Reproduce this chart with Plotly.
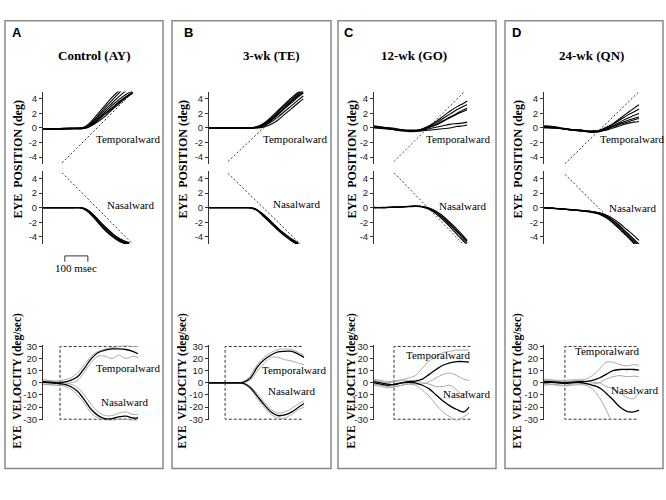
import plotly.graph_objects as go

W, H = 666, 500


def px(x):
    return x / W


def py(y):
    return 1 - y / H


# ---------------- data (time in msec, position in deg, velocity in deg/sec) ----------------
panel_letters = ["A", "B", "C", "D"]
panel_titles = ["Control (AY)", "3-wk (TE)", "12-wk (GO)", "24-wk (QN)"]
pos_ticks = [4, 2, 0, -2, -4]
pos_tick_labels = ["4", "2", "0", "-2", "-4"]
vel_ticks = [30, 20, 10, 0, -10, -20, -30]
vel_tick_labels = ["30", "20", "10", "0", "-10", "-20", "-30"]

t_vel = [0, 30, 60, 90, 120, 150, 180, 210, 240, 270, 300, 330, 360, 390, 413]

# ---- Panel A : Control (AY)
tA_temp = [0, 60, 120, 170, 190, 210, 240, 270, 300, 330, 360, 390]
A_temp = [
    [-0.2, -0.1, -0.1, 0.0, 0.3, 0.9, 2.0, 3.1, 4.2, 5.1, 5.8, 6.5],
    [-0.1, -0.1, 0.0, 0.0, 0.2, 0.7, 1.7, 2.8, 3.8, 4.8, 5.6, 6.3],
    [-0.2, -0.2, -0.1, 0.0, 0.2, 0.6, 1.5, 2.5, 3.4, 4.3, 5.1, 5.8],
    [-0.1, -0.1, -0.1, 0.0, 0.1, 0.5, 1.3, 2.2, 3.1, 3.9, 4.6, 5.1],
    [-0.2, -0.1, -0.1, -0.1, 0.1, 0.4, 1.2, 2.0, 2.8, 3.6, 4.3, 4.9],
    [-0.1, -0.1, 0.0, 0.0, 0.1, 0.4, 1.1, 1.9, 2.7, 3.5, 4.2, 4.8],
    [-0.2, -0.2, -0.1, -0.1, 0.0, 0.3, 0.9, 1.6, 2.5, 3.3, 4.1, 4.8],
]
tA_nas = [0, 60, 120, 160, 180, 200, 230, 260, 290, 320, 350, 375]
A_nas = [
    [0, 0, 0, 0, -0.2, -0.6, -1.6, -2.7, -3.6, -4.3, -4.8, -5.0],
    [0, 0, 0, 0, -0.1, -0.5, -1.4, -2.4, -3.3, -4.1, -4.6, -4.9],
    [0, 0, 0, 0, -0.1, -0.5, -1.5, -2.5, -3.5, -4.2, -4.7, -5.1],
    [0, 0, 0, 0, -0.2, -0.7, -1.7, -2.8, -3.7, -4.4, -4.9, -5.2],
    [0, 0, 0, 0, -0.1, -0.4, -1.3, -2.3, -3.2, -4.0, -4.5, -4.8],
]
A_vtemp_mean = [1.0, 0.5, 0.0, 0.5, 2.0, 5.0, 12, 20, 25, 27, 28, 28, 27.5, 26, 24]
A_vtemp_up = [2.5, 2.0, 1.5, 2.5, 4.0, 8, 15, 22, 26, 28, 29, 30, 30.5, 30, 30]
A_vtemp_lo = [-1.5, -1.5, -2.0, -1.5, 0, 2, 9, 17, 22, 22, 20, 23, 20, 22, 21]
A_vnas_mean = [0.5, 0, -0.5, -1, -3, -7, -14, -22, -27, -29.5, -29.5, -28, -27.5, -29, -29]
A_vnas_up = [1.5, 1.5, 1, 0.5, -1, -4, -10, -18, -24, -27, -27, -25, -24, -26, -26]
A_vnas_lo = [-1, -1.5, -2, -2.5, -5, -10, -17, -25, -29, -31, -31, -30, -30, -31, -31]

# ---- Panel B : 3-wk (TE)
tB_temp = [0, 60, 120, 170, 190, 210, 240, 270, 300, 330, 360, 390, 410]
B_temp = [
    [0, 0, 0, 0, 0.05, 0.2, 0.7, 1.5, 2.4, 3.3, 4.2, 5.0, 5.4],
    [0, 0, 0, 0, 0.05, 0.15, 0.6, 1.3, 2.2, 3.1, 4.0, 4.8, 5.2],
    [0, 0, 0, 0, 0.0, 0.1, 0.5, 1.2, 2.0, 2.9, 3.8, 4.6, 5.0],
    [0, 0, 0, 0, 0, 0.1, 0.4, 1.0, 1.8, 2.7, 3.5, 4.3, 4.8],
    [0, 0, 0, 0, 0, 0.05, 0.3, 0.8, 1.5, 2.3, 3.1, 3.9, 4.4],
    [0, 0, 0, 0, 0, 0, 0.15, 0.5, 1.1, 1.9, 2.7, 3.5, 4.0],
    [0, 0, 0, 0, 0, 0.1, 0.5, 1.1, 1.9, 2.8, 3.7, 4.5, 5.0],
]
tB_nas = [0, 60, 120, 170, 190, 210, 240, 270, 300, 330, 360, 390]
B_nas = [
    [0, 0, 0, 0, -0.1, -0.4, -1.2, -2.1, -3.0, -3.8, -4.5, -5.1],
    [0, 0, 0, 0, -0.1, -0.3, -1.1, -2.0, -2.9, -3.7, -4.4, -5.0],
    [0, 0, 0, 0, -0.1, -0.4, -1.3, -2.2, -3.1, -3.9, -4.6, -5.2],
    [0, 0, 0, 0, 0, -0.3, -1.0, -1.9, -2.8, -3.6, -4.3, -4.9],
]
B_vtemp_mean = [0, 0, 0, 0, 0, 0.5, 4, 13, 19, 23, 25.5, 26, 26, 23.5, 21]
B_vtemp_up = [0, 0, 0, 0, 0, 1, 6, 15, 21, 25, 27.5, 28, 27.5, 25, 22.5]
B_vtemp_lo = [0, 0, 0, 0, 0, 0, 2.5, 10, 16, 21, 21, 19, 18, 16, 15]
B_vnas_mean = [0, 0, 0, 0, 0, -0.5, -4, -11, -18, -24, -27, -26.5, -24, -20, -17]
B_vnas_up = [0, 0, 0, 0, 0, 0, -3, -9, -16, -22, -25, -24, -21, -17, -15]
B_vnas_lo = [0, 0, 0, 0, 0, -1, -5, -13, -20, -26, -29, -29, -26, -22, -20]

# ---- Panel C : 12-wk (GO)
tC_temp = [0, 40, 80, 120, 160, 200, 240, 270, 300, 330, 360, 390, 405]
C_temp = [
    [0.2, 0.1, 0.0, -0.2, -0.3, -0.2, 0.3, 0.9, 1.6, 2.3, 2.9, 3.4, 3.7],
    [0.3, 0.1, -0.1, -0.3, -0.4, -0.3, 0.2, 0.7, 1.3, 1.9, 2.5, 3.0, 3.2],
    [0.1, 0.0, -0.1, -0.3, -0.4, -0.3, 0.1, 0.5, 1.0, 1.5, 2.0, 2.5, 2.7],
    [0.2, 0.0, -0.2, -0.3, -0.4, -0.3, 0.1, 0.4, 0.9, 1.4, 1.9, 2.3, 2.5],
    [0.0, -0.1, -0.2, -0.4, -0.5, -0.4, -0.1, 0.1, 0.3, 0.5, 0.6, 0.7, 0.8],
    [0.1, 0.0, -0.2, -0.3, -0.4, -0.4, -0.3, -0.2, -0.1, 0.0, 0.2, 0.3, 0.4],
]
tC_nas = [0, 40, 80, 120, 160, 200, 230, 260, 290, 320, 350, 380, 405]
C_nas = [
    [0.0, 0.0, 0.05, 0.1, 0.15, 0.2, 0.0, -0.5, -1.2, -2.1, -3.0, -4.0, -4.8],
    [0.0, 0.05, 0.1, 0.1, 0.2, 0.15, -0.1, -0.6, -1.4, -2.3, -3.3, -4.3, -5.1],
    [0.05, 0.0, 0.05, 0.1, 0.2, 0.2, 0.05, -0.3, -0.9, -1.7, -2.6, -3.6, -4.5],
    [0.0, 0.0, 0.1, 0.15, 0.2, 0.2, 0.0, -0.4, -1.1, -1.9, -2.8, -3.8, -4.6],
]
C_vtemp_mean = [1, 0, -1, -1.5, 0, 1, 1.5, 3, 7, 11, 14.5, 16.5, 17.5, 17.5, 17]
C_vtemp_up = [3, 2, 1, 1.5, 2.5, 4, 6, 12, 18, 22, 25, 26, 27, 27, 27]
C_vtemp_lo = [-1, -2, -3, -3.5, -2, -1, -1, -1, 1, 4, 7, 8, 6, 3, 2]
C_vnas_mean = [0, -1, -2, -1, 0, 0.5, 0, -2, -5, -10, -15, -19, -22, -24, -20]
C_vnas_up = [2, 1, 0, 1, 2, 2, 1.5, 0, -1, -3, -3, -2, -6, -10, -6]
C_vnas_lo = [-2, -3, -4, -3, -2, -1, -2, -6, -11, -18, -24, -28, -31, -28, -25]

# ---- Panel D : 24-wk (QN)
tD_temp = [0, 40, 80, 120, 160, 200, 240, 270, 300, 330, 360, 390, 413]
D_temp = [
    [0.3, 0.2, 0.0, -0.2, -0.3, -0.4, -0.3, 0.1, 0.6, 1.3, 2.0, 2.7, 3.2],
    [0.1, 0.0, -0.1, -0.2, -0.3, -0.5, -0.4, 0.0, 0.5, 1.1, 1.7, 2.2, 2.6],
    [0.2, 0.1, -0.1, -0.3, -0.4, -0.5, -0.4, -0.1, 0.3, 0.8, 1.3, 1.7, 2.0],
    [0.0, 0.0, -0.1, -0.3, -0.4, -0.6, -0.5, -0.2, 0.2, 0.6, 1.0, 1.3, 1.5],
    [0.2, 0.1, -0.1, -0.2, -0.3, -0.5, -0.4, -0.1, 0.2, 0.5, 0.8, 1.1, 1.3],
    [0.1, 0.0, -0.1, -0.3, -0.4, -0.5, -0.5, -0.3, 0.0, 0.3, 0.6, 0.8, 0.9],
]
tD_nas = [0, 40, 80, 120, 160, 200, 240, 270, 300, 330, 360, 390, 413]
D_nas = [
    [0, -0.1, -0.2, -0.3, -0.4, -0.5, -0.7, -1.1, -1.7, -2.5, -3.4, -4.3, -5.0],
    [0, -0.1, -0.2, -0.3, -0.4, -0.5, -0.8, -1.3, -2.0, -2.8, -3.7, -4.7, -5.4],
    [0, -0.1, -0.2, -0.3, -0.4, -0.6, -0.8, -1.2, -1.8, -2.6, -3.5, -4.5, -5.2],
    [0, -0.05, -0.15, -0.25, -0.35, -0.5, -0.7, -1.0, -1.5, -2.2, -3.0, -3.8, -4.5],
    [0, -0.1, -0.2, -0.3, -0.45, -0.6, -0.9, -1.4, -2.1, -3.0, -3.9, -4.9, -5.6],
]
D_vtemp_mean = [1, 1, 0.5, 0, 0.5, 1, 1, 2, 4, 7, 10, 11, 11, 11, 10.5]
D_vtemp_up = [3, 2.5, 2, 2, 2.5, 2.5, 3, 6, 11, 17, 17, 15, 14, 15, 14.5]
D_vtemp_lo = [-1, -1, -1.5, -2, -1, -0.5, -1, -1, 0, 3, 5, 6, 5, 5.5, 5]
D_vnas_mean = [0, 0.5, 0, -0.5, 0, 0.5, -0.5, -2, -4, -8.5, -14, -20, -23.5, -24, -22.5]
D_vnas_up = [2, 2, 1.5, 1, 1.5, 2, 1.5, 0.5, 0, -3, -5, -8, -12, -13, -8]
t_vel_D_lo = [0, 30, 60, 90, 120, 150, 180, 210, 240, 270, 290]
D_vnas_lo = [-2, -1.5, -2, -2.5, -2, -1.5, -2, -5, -12, -22, -31]

# ---- target (stimulus) traces
target_t = [[83, 390], [83, 404], [87, 390], [91, 410]]
target_temp = [[-4.8, 4.9], [-4.6, 5.0], [-4.6, 4.9], [-4.9, 4.9]]
target_nas = [[4.8, -5.0], [4.7, -5.2], [4.8, -5.1], [4.6, -5.5]]
target_vel_onset = [74, 70, 87, 91]
target_vel_end = [413, 404, 420, 409]
target_speed = 30

scale_bar_start = 95
scale_bar_len = 100
scale_bar_label = "100 msec"

# ---------------- layout geometry (pixels) ----------------
axis_x = [43, 209, 374, 544]
box_left = [5, 172, 338, 505]
box_right = [163, 331, 496, 663]
title_cx = [94, 271, 414, 591]
letter_x = [10, 182, 342, 510]
ytitle_x = [18, 183, 352, 518]
lbl_pos_temp = [(128, 137), (295, 137), (458, 137), (632, 137)]
lbl_pos_nas = [(131, 204), (297, 203), (463, 205), (633, 207)]
lbl_vel_temp = [(128, 370), (294, 372), (438, 357), (607, 353)]
lbl_vel_nas = [(125, 404), (292, 393), (467, 396), (635, 392)]
X_RANGE = [0, 420]
MS_PX = 0.23

panels = [
    dict(tT=tA_temp, T=A_temp, tN=tA_nas, N=A_nas,
         vT=(A_vtemp_mean, A_vtemp_up, A_vtemp_lo), vN=(A_vnas_mean, A_vnas_up, (t_vel, A_vnas_lo))),
    dict(tT=tB_temp, T=B_temp, tN=tB_nas, N=B_nas,
         vT=(B_vtemp_mean, B_vtemp_up, B_vtemp_lo), vN=(B_vnas_mean, B_vnas_up, (t_vel, B_vnas_lo))),
    dict(tT=tC_temp, T=C_temp, tN=tC_nas, N=C_nas,
         vT=(C_vtemp_mean, C_vtemp_up, C_vtemp_lo), vN=(C_vnas_mean, C_vnas_up, (t_vel, C_vnas_lo))),
    dict(tT=tD_temp, T=D_temp, tN=tD_nas, N=D_nas,
         vT=(D_vtemp_mean, D_vtemp_up, D_vtemp_lo), vN=(D_vnas_mean, D_vnas_up, (t_vel_D_lo, D_vnas_lo))),
]

SERIF = "Liberation Serif, Times New Roman, serif"
SANS = "Liberation Sans, Arial, sans-serif"
GRAY = "#a0a0a0"
DASH_COL = ["#333333", "#333333", "#6a3a3a", "#333333"]

fig = go.Figure()
layout = dict(
    width=W, height=H, margin=dict(l=0, r=0, t=0, b=0),
    paper_bgcolor="white", plot_bgcolor="rgba(0,0,0,0)", showlegend=False,
)
annotations = []
shapes = []


def add_line(x, y, ax_idx, color="black", width=1.0, dash="solid", shape="spline"):
    fig.add_trace(go.Scatter(
        x=x, y=y, mode="lines", xaxis=f"x{ax_idx}", yaxis=f"y{ax_idx}",
        line=dict(color=color, width=width, dash=dash, shape=shape),
        hoverinfo="skip", showlegend=False,
    ))


def yaxis_cfg(dom, rng, tv, tt, xa):
    return dict(
        domain=dom, range=rng, anchor=xa, showline=True, linecolor="#333", linewidth=1,
        ticks="outside", ticklen=3, tickwidth=1, tickcolor="#333",
        tickmode="array", tickvals=tv, ticktext=tt,
        tickfont=dict(family=SANS, size=9.5, color="#222"),
        showgrid=False, zeroline=False, fixedrange=True,
    )


sub_rows = [
    ((163, 89), [-5, 5], pos_ticks, pos_tick_labels),
    ((244, 170), [-5, 5], pos_ticks, pos_tick_labels),
    ((423.2, 346.8), [-31, 31], vel_ticks, vel_tick_labels),
]

for p, P in enumerate(panels):
    x0 = axis_x[p]
    xdom = [px(x0), px(x0 + (X_RANGE[1] - X_RANGE[0]) * MS_PX)]
    for r, (pix, rng, tv, tt) in enumerate(sub_rows):
        k = p * 3 + r + 1
        sfx = "" if k == 1 else str(k)
        layout["xaxis" + sfx] = dict(domain=xdom, range=X_RANGE, anchor=f"y{k}", visible=False, fixedrange=True)
        layout["yaxis" + sfx] = yaxis_cfg([py(pix[0]), py(pix[1])], rng, tv, tt, f"x{k}")

    kT, kN, kV = p * 3 + 1, p * 3 + 2, p * 3 + 3
    dc = DASH_COL[p]
    # target position ramps
    add_line(target_t[p], target_temp[p], kT, color=dc, width=1, dash="2px,2px", shape="linear")
    add_line(target_t[p], target_nas[p], kN, color=dc, width=1, dash="2px,2px", shape="linear")
    # eye position traces
    for tr in P["T"]:
        add_line(P["tT"], tr, kT, width=1.1)
    for tr in P["N"]:
        add_line(P["tN"], tr, kN, width=1.1)
    # target velocity
    on, en = target_vel_onset[p], target_vel_end[p]
    add_line([on, on, en], [0, target_speed, target_speed], kV, color="#333", width=1, dash="3px,2px", shape="linear")
    add_line([on, on, en], [0, -target_speed, -target_speed], kV, color="#333", width=1, dash="3px,2px", shape="linear")
    # velocity SD and mean
    mT, uT, lT = P["vT"]
    mN, uN, (tl, lN) = P["vN"]
    add_line(t_vel, uT, kV, color=GRAY, width=0.9)
    add_line(t_vel, lT, kV, color=GRAY, width=0.9)
    add_line(t_vel, uN, kV, color=GRAY, width=0.9)
    add_line(tl, lN, kV, color=GRAY, width=0.9)
    add_line(t_vel, mT, kV, color="black", width=1.3)
    add_line(t_vel, mN, kV, color="black", width=1.3)

    # panel box
    shapes.append(dict(type="rect", xref="paper", yref="paper",
                       x0=px(box_left[p]), x1=px(box_right[p]), y0=py(472), y1=py(17),
                       line=dict(color="#8a8a8a", width=1.5), fillcolor="rgba(0,0,0,0)"))
    # texts
    annotations.append(dict(x=px(letter_x[p]), y=py(29), xref="paper", yref="paper",
                            text=f"<b>{panel_letters[p]}</b>", showarrow=False, xanchor="left", yanchor="middle",
                            font=dict(family=SANS, size=13, color="black")))
    annotations.append(dict(x=px(title_cx[p]), y=py(52), xref="paper", yref="paper",
                            text=f"<b>{panel_titles[p]}</b>", showarrow=False, xanchor="center", yanchor="middle",
                            font=dict(family=SERIF, size=13, color="black")))
    annotations.append(dict(x=px(ytitle_x[p]), y=py(158), xref="paper", yref="paper",
                            text="<b>EYE  POSITION (deg)</b>", showarrow=False, textangle=-90,
                            xanchor="center", yanchor="middle",
                            font=dict(family=SERIF, size=12, color="black")))
    annotations.append(dict(x=px(ytitle_x[p]), y=py(383), xref="paper", yref="paper",
                            text="<b>EYE  VELOCITY (deg/sec)</b>", showarrow=False, textangle=-90,
                            xanchor="center", yanchor="middle",
                            font=dict(family=SERIF, size=11.5, color="black")))
    for (lx, ly), txt in [(lbl_pos_temp[p], "Temporalward"), (lbl_pos_nas[p], "Nasalward"),
                          (lbl_vel_temp[p], "Temporalward"), (lbl_vel_nas[p], "Nasalward")]:
        annotations.append(dict(x=px(lx), y=py(ly), xref="paper", yref="paper", text=txt,
                                showarrow=False, xanchor="center", yanchor="middle",
                                font=dict(family=SERIF, size=11, color="black")))

# scale bar (panel A)
sb0, sb1 = scale_bar_start, scale_bar_start + scale_bar_len
shapes.append(dict(type="path", xref="x2", yref="paper",
                   path=f"M {sb0},{py(262)} L {sb0},{py(256)} L {sb1},{py(256)} L {sb1},{py(262)}",
                   line=dict(color="#333", width=1)))
annotations.append(dict(x=(sb0 + sb1) / 2, y=py(268), xref="x2", yref="paper", text=scale_bar_label,
                        showarrow=False, xanchor="center", yanchor="middle",
                        font=dict(family=SERIF, size=11, color="black")))

layout["annotations"] = annotations
layout["shapes"] = shapes
fig.update_layout(**layout)
fig.write_html("out.html", config={"displayModeBar": False, "staticPlot": True},
               post_script="document.body.style.margin='0px';")
